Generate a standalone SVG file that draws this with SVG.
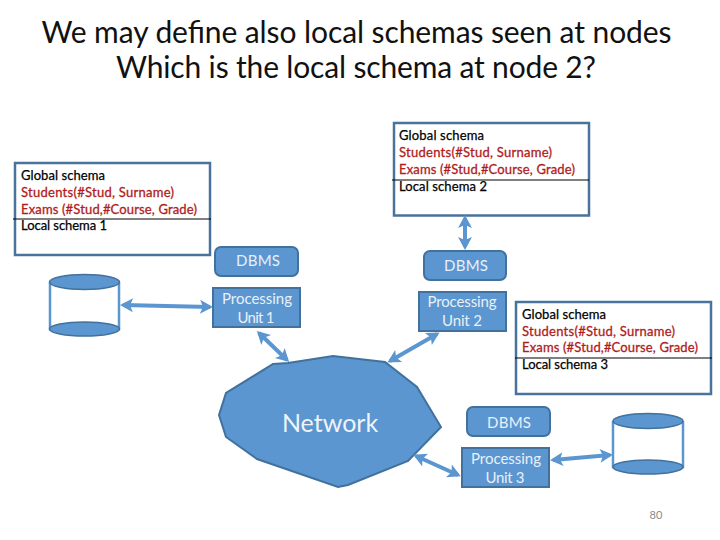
<svg xmlns="http://www.w3.org/2000/svg" width="720" height="540" viewBox="0 0 720 540">
<style>
text{font-family:Lato,"Open Sans","Liberation Sans",sans-serif}
.title{font-size:30px;fill:#111}
.s{font-size:13px;fill:#000;stroke:#000;stroke-width:.25}
.r{font-size:13px;fill:#b01c1c;stroke:#b01c1c;stroke-width:.3}
.box{fill:#fff;stroke:#4a739b;stroke-width:2.500}
.sep{stroke:#000;stroke-width:1}
.blue{fill:#5b96d0;stroke:#41719c;stroke-width:2}
.w{fill:#e8f0f8;font-size:15px;text-anchor:middle}
.cyl{fill:#fff;stroke:#5b96d0;stroke-width:2.500}
.top{fill:#5b96d0;stroke:#41719c;stroke-width:1.500}
.arrow{fill:none;stroke:#5b96d0;stroke-width:4;marker-start:url(#h);marker-end:url(#h)}
</style>
<defs>
<marker id="h" markerUnits="userSpaceOnUse" viewBox="0 0 16 16" refX="12" refY="8" markerWidth="16" markerHeight="16" orient="auto-start-reverse">
<path d="M15 8L2 1L5 8L2 15Z" fill="#5b96d0"/>
</marker>
</defs>
<text class="title" x="356.500" y="43" text-anchor="middle" textLength="630" lengthAdjust="spacing">We may define also local schemas seen at nodes</text>
<text class="title" x="356" y="78" text-anchor="middle" textLength="480" lengthAdjust="spacing">Which is the local schema at node 2?</text>
<g id="schema1">
<rect class="box" x="15" y="163" width="195" height="92"/>
<line class="sep" x1="13" y1="219" x2="211" y2="219"/>
<text class="s" x="21" y="180" textLength="84">Global schema</text>
<text class="r" x="21" y="197" textLength="153">Students(#Stud, Surname)</text>
<text class="r" x="21" y="214" textLength="176">Exams (#Stud,#Course, Grade)</text>
<text class="s" x="21" y="230" textLength="86">Local schema 1</text>
</g>
<g id="schema2">
<rect class="box" x="394" y="123" width="195" height="92.500"/>
<line class="sep" x1="392" y1="180" x2="589" y2="180"/>
<text class="s" x="399" y="140" textLength="85">Global schema</text>
<text class="r" x="399" y="157" textLength="153">Students(#Stud, Surname)</text>
<text class="r" x="399" y="174" textLength="176">Exams (#Stud,#Course, Grade)</text>
<text class="s" x="399" y="191" textLength="88">Local schema 2</text>
</g>
<g id="schema3">
<rect class="box" x="516" y="302" width="195" height="92"/>
<line class="sep" x1="515" y1="358" x2="712" y2="358"/>
<text class="s" x="522" y="319" textLength="84">Global schema</text>
<text class="r" x="522" y="336" textLength="153">Students(#Stud, Surname)</text>
<text class="r" x="522" y="352" textLength="176">Exams (#Stud,#Course, Grade)</text>
<text class="s" x="522" y="369" textLength="86">Local schema 3</text>
</g>
<g id="dbms1"><rect class="blue" x="215" y="247" width="83" height="29" rx="6"/><text class="w" x="258" y="266" textLength="44">DBMS</text></g>
<g id="pu1"><rect class="blue" x="213" y="288" width="87" height="39"/><text class="w" x="257" y="304" textLength="70">Processing</text><text class="w" x="256" y="323" textLength="37">Unit 1</text></g>
<g id="dbms2"><rect class="blue" x="424" y="251" width="82" height="29" rx="6"/><text class="w" x="466" y="271" textLength="44">DBMS</text></g>
<g id="pu2"><rect class="blue" x="419" y="292" width="87" height="39"/><text class="w" x="462" y="307" textLength="69">Processing</text><text class="w" x="462" y="326" textLength="40">Unit 2</text></g>
<g id="dbms3"><rect class="blue" x="467" y="407" width="83" height="29" rx="6"/><text class="w" x="509" y="428" textLength="44">DBMS</text></g>
<g id="pu3"><rect class="blue" x="462" y="448" width="87" height="39"/><text class="w" x="506" y="464" textLength="70">Processing</text><text class="w" x="505" y="483" textLength="39">Unit 3</text></g>
<g id="network">
<polygon class="blue" points="273,364 288,363 333,356 385,362 417,387 441,427 408,461 348,485 338,487 257,459 226,437 219,415 226,393"/>
<text x="330" y="432" font-size="25" fill="#eef4fa" text-anchor="middle">Network</text>
</g>
<g id="disk1">
<path class="cyl" d="M50 282V329H119V282"/>
<ellipse class="top" cx="84.500" cy="282" rx="35" ry="7.500"/>
<ellipse class="top" cx="84.500" cy="329" rx="35" ry="7"/>
</g>
<g id="disk3">
<path class="cyl" d="M613 421V467H683V421"/>
<ellipse class="top" cx="648" cy="421" rx="35" ry="7.500"/>
<ellipse class="top" cx="648" cy="467" rx="35" ry="7"/>
</g>
<g id="connectors">
<line class="arrow" x1="123" y1="305" x2="210" y2="307"/>
<line class="arrow" x1="259" y1="333" x2="287" y2="360"/>
<line class="arrow" x1="437" y1="334" x2="390" y2="361"/>
<line class="arrow" x1="465" y1="218" x2="465" y2="247"/>
<line class="arrow" x1="416" y1="456" x2="458" y2="475"/>
<line class="arrow" x1="553" y1="460" x2="610" y2="455"/>
</g>
<text x="656" y="519" font-size="11" fill="#8a8a8a" text-anchor="middle">80</text>
</svg>
